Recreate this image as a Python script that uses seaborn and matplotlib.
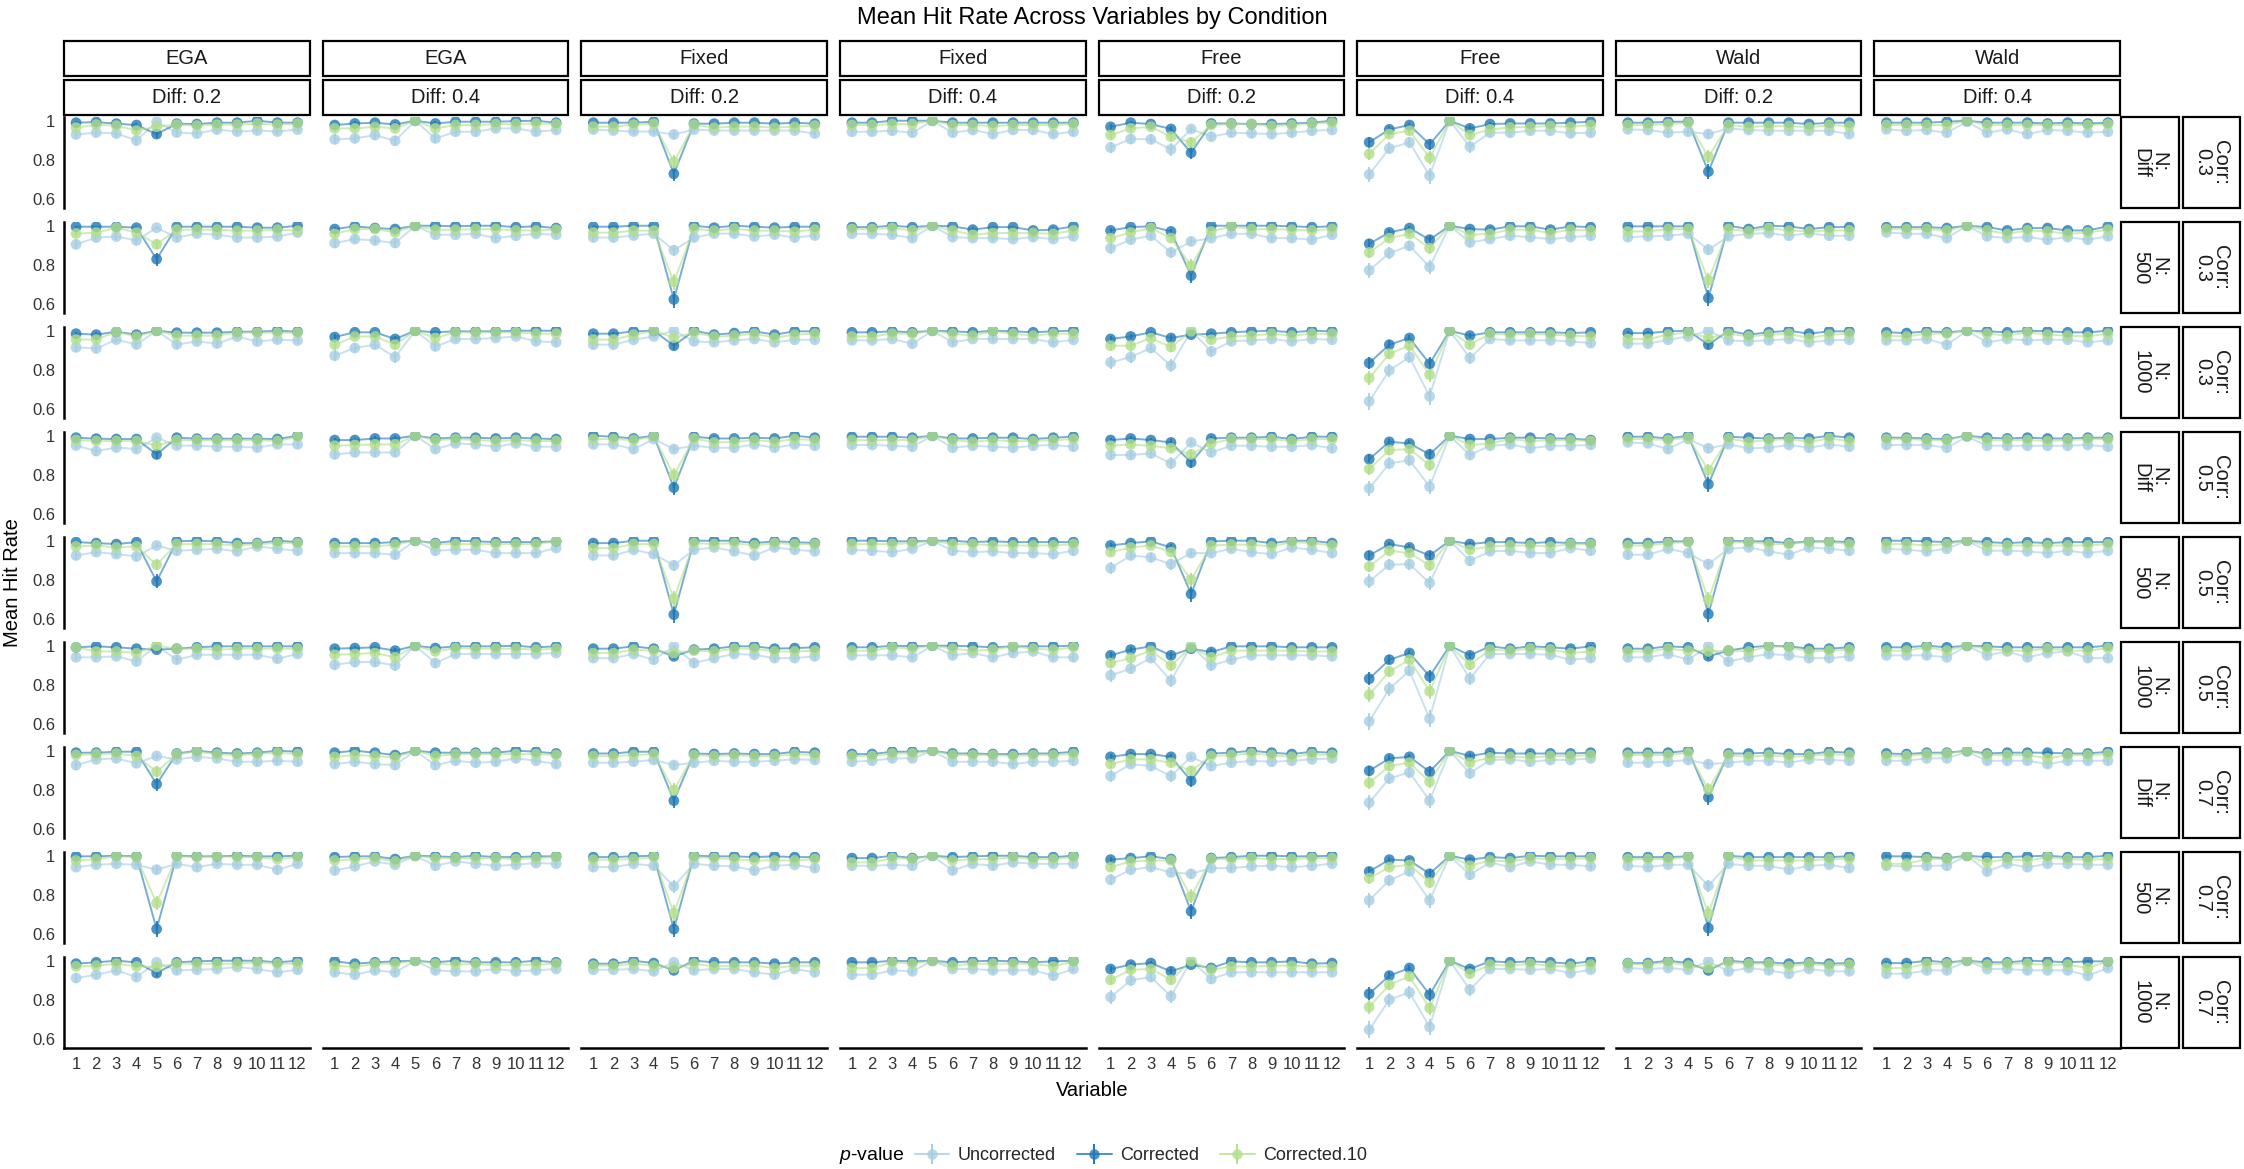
import numpy as np
import pandas as pd
import matplotlib
matplotlib.use("Agg")
import matplotlib.pyplot as plt
import seaborn as sns
from matplotlib.lines import Line2D
from matplotlib.patches import Rectangle
from matplotlib.legend_handler import HandlerTuple

# ---------------- data ----------------
variables = list(range(1, 13))
methods = ["EGA", "EGA", "Fixed", "Fixed", "Free", "Free", "Wald", "Wald"]
diff_labels = ["Diff: 0.2", "Diff: 0.4"] * 4
row_corr = ["Corr:\n0.3"] * 3 + ["Corr:\n0.5"] * 3 + ["Corr:\n0.7"] * 3
row_n = ["N:\nDiff", "N:\n500", "N:\n1000"] * 3
series = ["Uncorrected", "Corrected", "Corrected.10"]
palette = {"Uncorrected": "#A6CEE3", "Corrected": "#1F78B4", "Corrected.10": "#B2DF8A"}
n_replications = 500
y_ticks = [0.6, 0.8, 1.0]
y_tick_labels = ["0.6", "0.8", "1"]

ega_d02_unc = [
    [0.930, 0.940, 0.935, 0.900, 0.995, 0.940, 0.935, 0.955, 0.945, 0.950, 0.945, 0.955],
    [0.905, 0.940, 0.945, 0.925, 0.990, 0.940, 0.960, 0.955, 0.940, 0.940, 0.945, 0.965],
    [0.915, 0.910, 0.955, 0.930, 1.000, 0.930, 0.945, 0.935, 0.970, 0.945, 0.955, 0.950],
    [0.950, 0.922, 0.940, 0.932, 0.990, 0.950, 0.950, 0.944, 0.944, 0.940, 0.956, 0.956],
    [0.925, 0.942, 0.932, 0.920, 0.976, 0.949, 0.954, 0.959, 0.946, 0.971, 0.959, 0.949],
    [0.941, 0.941, 0.946, 0.920, 1.000, 0.929, 0.954, 0.954, 0.954, 0.954, 0.934, 0.958],
    [0.927, 0.956, 0.961, 0.936, 0.973, 0.956, 0.969, 0.961, 0.944, 0.944, 0.949, 0.944],
    [0.942, 0.954, 0.959, 0.954, 0.929, 0.959, 0.942, 0.959, 0.954, 0.954, 0.929, 0.959],
    [0.912, 0.929, 0.951, 0.917, 0.992, 0.951, 0.954, 0.958, 0.968, 0.958, 0.941, 0.954]]
ega_d02_cor = [
    [0.990, 0.993, 0.985, 0.978, 0.932, 0.985, 0.983, 0.990, 0.990, 1.000, 0.990, 0.990],
    [0.995, 0.995, 0.995, 0.990, 0.830, 0.995, 0.995, 0.995, 0.995, 0.990, 0.990, 1.000],
    [0.985, 0.980, 0.995, 0.980, 1.000, 0.990, 0.990, 0.990, 0.995, 0.995, 1.000, 0.995],
    [0.990, 0.985, 0.983, 0.983, 0.905, 0.990, 0.985, 0.985, 0.985, 0.985, 0.983, 1.000],
    [0.993, 0.988, 0.983, 0.993, 0.793, 0.997, 1.000, 0.997, 0.988, 0.988, 1.000, 0.993],
    [0.992, 0.997, 0.992, 0.985, 0.980, 0.985, 0.992, 0.997, 0.997, 0.997, 0.997, 0.997],
    [0.990, 0.990, 0.995, 0.995, 0.830, 0.986, 1.000, 0.990, 0.986, 0.990, 1.000, 0.995],
    [0.997, 0.997, 1.000, 0.997, 0.627, 1.000, 0.997, 0.997, 1.000, 0.997, 0.997, 1.000],
    [0.985, 0.992, 1.000, 0.992, 0.937, 0.992, 0.997, 1.000, 1.000, 1.000, 0.992, 1.000]]
ega_d02_c10 = [
    [0.965, 0.980, 0.975, 0.950, 0.970, 0.980, 0.975, 0.980, 0.980, 0.985, 0.980, 0.985],
    [0.960, 0.965, 0.990, 0.965, 0.905, 0.980, 0.980, 0.980, 0.975, 0.975, 0.980, 0.975],
    [0.955, 0.955, 0.995, 0.970, 1.000, 0.975, 0.975, 0.975, 0.990, 0.990, 0.990, 0.990],
    [0.978, 0.973, 0.973, 0.973, 0.950, 0.978, 0.978, 0.978, 0.978, 0.978, 0.973, 0.995],
    [0.971, 0.976, 0.966, 0.971, 0.878, 0.983, 0.983, 0.983, 0.976, 0.983, 0.988, 0.988],
    [0.992, 0.971, 0.971, 0.963, 1.000, 0.985, 0.985, 0.980, 0.985, 0.985, 0.985, 0.985],
    [0.978, 0.983, 0.986, 0.973, 0.893, 0.983, 0.995, 0.983, 0.978, 0.983, 0.990, 0.983],
    [0.976, 0.983, 0.997, 0.993, 0.759, 0.997, 0.993, 0.997, 0.993, 0.993, 0.983, 0.993],
    [0.971, 0.975, 0.985, 0.971, 0.968, 0.985, 0.985, 0.985, 0.985, 0.992, 0.985, 0.985]]

ega_d04_unc = [
    [0.905, 0.910, 0.927, 0.898, 1.000, 0.910, 0.944, 0.944, 0.961, 0.961, 0.944, 0.953],
    [0.912, 0.932, 0.925, 0.912, 1.000, 0.954, 0.954, 0.959, 0.937, 0.949, 0.959, 0.954],
    [0.873, 0.912, 0.929, 0.866, 1.000, 0.920, 0.958, 0.958, 0.963, 0.971, 0.946, 0.941],
    [0.905, 0.915, 0.915, 0.915, 1.000, 0.932, 0.961, 0.956, 0.944, 0.961, 0.944, 0.944],
    [0.937, 0.937, 0.937, 0.929, 1.000, 0.949, 0.954, 0.954, 0.937, 0.937, 0.937, 0.963],
    [0.903, 0.917, 0.917, 0.900, 1.000, 0.912, 0.958, 0.958, 0.958, 0.958, 0.958, 0.963],
    [0.932, 0.944, 0.932, 0.927, 1.000, 0.927, 0.949, 0.939, 0.944, 0.961, 0.949, 0.932],
    [0.925, 0.946, 0.971, 0.954, 1.000, 0.949, 0.971, 0.959, 0.949, 0.954, 0.963, 0.959],
    [0.941, 0.929, 0.951, 0.941, 1.000, 0.951, 0.946, 0.946, 0.958, 0.946, 0.951, 0.958]]
ega_d04_cor = [
    [0.978, 0.986, 0.990, 0.981, 1.000, 0.986, 0.995, 0.995, 0.995, 0.998, 1.000, 0.990],
    [0.983, 0.997, 0.988, 0.983, 1.000, 1.000, 0.997, 1.000, 1.000, 0.993, 0.997, 0.988],
    [0.968, 0.992, 0.992, 0.958, 1.000, 0.992, 0.997, 0.997, 0.997, 1.000, 1.000, 1.000],
    [0.978, 0.978, 0.986, 0.986, 1.000, 0.986, 0.990, 0.990, 0.986, 0.990, 0.986, 0.983],
    [0.988, 0.988, 0.988, 0.993, 1.000, 0.988, 1.000, 0.997, 0.993, 0.993, 0.993, 0.997],
    [0.985, 0.988, 0.992, 0.975, 1.000, 0.988, 0.997, 0.997, 0.997, 1.000, 0.992, 0.997],
    [0.990, 1.000, 0.990, 0.978, 1.000, 0.990, 0.990, 0.990, 0.990, 1.000, 0.995, 0.986],
    [0.993, 0.997, 0.997, 0.983, 1.000, 0.997, 0.993, 1.000, 0.993, 0.993, 0.997, 0.997],
    [0.997, 0.985, 0.992, 0.997, 1.000, 0.992, 1.000, 0.992, 0.992, 0.992, 1.000, 0.992]]
ega_d04_c10 = [
    [0.961, 0.961, 0.969, 0.961, 1.000, 0.961, 0.978, 0.978, 0.983, 0.983, 0.986, 0.983],
    [0.959, 0.983, 0.983, 0.966, 1.000, 0.980, 0.980, 0.983, 0.983, 0.976, 0.976, 0.980],
    [0.929, 0.971, 0.971, 0.929, 1.000, 0.963, 0.992, 0.992, 0.992, 0.992, 0.985, 0.985],
    [0.949, 0.953, 0.956, 0.956, 1.000, 0.978, 0.983, 0.978, 0.973, 0.978, 0.973, 0.973],
    [0.971, 0.971, 0.971, 0.980, 1.000, 0.983, 0.983, 0.983, 0.983, 0.983, 0.983, 0.997],
    [0.954, 0.958, 0.963, 0.941, 1.000, 0.971, 0.988, 0.985, 0.985, 0.985, 0.980, 0.985],
    [0.969, 0.978, 0.973, 0.966, 1.000, 0.973, 0.983, 0.983, 0.983, 0.983, 0.983, 0.978],
    [0.976, 0.983, 0.988, 0.971, 1.000, 0.988, 0.988, 0.988, 0.988, 0.983, 0.988, 0.993],
    [0.975, 0.968, 0.985, 0.985, 1.000, 0.985, 0.980, 0.985, 0.975, 0.980, 0.980, 0.985]]

fixed_d02_unc = [
    [0.955, 0.950, 0.945, 0.945, 0.930, 0.955, 0.950, 0.950, 0.950, 0.950, 0.950, 0.935],
    [0.940, 0.940, 0.950, 0.960, 0.875, 0.940, 0.960, 0.960, 0.945, 0.955, 0.940, 0.950],
    [0.929, 0.929, 0.954, 0.971, 1.000, 0.946, 0.941, 0.951, 0.958, 0.941, 0.954, 0.954],
    [0.956, 0.956, 0.932, 0.983, 0.932, 0.949, 0.939, 0.939, 0.956, 0.939, 0.956, 0.949],
    [0.925, 0.925, 0.954, 0.932, 0.875, 0.954, 0.966, 0.946, 0.925, 0.966, 0.954, 0.946],
    [0.937, 0.937, 0.958, 0.929, 0.997, 0.912, 0.937, 0.958, 0.954, 0.937, 0.937, 0.946],
    [0.939, 0.939, 0.944, 0.953, 0.927, 0.939, 0.949, 0.944, 0.944, 0.949, 0.956, 0.953],
    [0.942, 0.942, 0.959, 0.949, 0.844, 0.959, 0.949, 0.946, 0.925, 0.949, 0.954, 0.937],
    [0.954, 0.954, 0.958, 0.946, 0.992, 0.951, 0.958, 0.958, 0.941, 0.929, 0.958, 0.941]]
fixed_d02_cor = [
    [0.990, 0.990, 0.990, 0.995, 0.730, 0.985, 0.985, 0.990, 0.990, 0.985, 0.990, 0.985],
    [0.995, 0.995, 1.000, 1.000, 0.625, 1.000, 0.990, 1.000, 0.995, 0.990, 0.995, 0.995],
    [0.985, 0.985, 0.997, 1.000, 0.924, 1.000, 0.980, 0.988, 0.997, 0.980, 0.997, 0.997],
    [1.000, 0.995, 0.986, 1.000, 0.736, 0.995, 0.986, 0.986, 0.990, 0.986, 1.000, 0.990],
    [0.988, 0.988, 1.000, 1.000, 0.624, 1.000, 1.000, 1.000, 0.988, 0.997, 0.993, 0.988],
    [0.985, 0.985, 0.997, 0.985, 0.946, 0.980, 0.985, 0.997, 0.997, 0.985, 0.988, 0.992],
    [0.986, 0.986, 0.995, 0.995, 0.746, 0.986, 0.983, 0.986, 0.983, 0.983, 0.995, 0.990],
    [0.993, 0.993, 0.997, 1.000, 0.627, 1.000, 0.997, 0.997, 0.993, 0.997, 0.993, 0.993],
    [0.985, 0.985, 1.000, 0.988, 0.951, 1.000, 0.992, 0.992, 0.992, 0.985, 0.992, 0.992]]
fixed_d02_c10 = [
    [0.970, 0.970, 0.980, 0.985, 0.790, 0.980, 0.965, 0.970, 0.970, 0.965, 0.970, 0.975],
    [0.965, 0.965, 0.975, 0.975, 0.715, 0.985, 0.975, 0.985, 0.975, 0.975, 0.970, 0.980],
    [0.955, 0.955, 0.980, 1.000, 0.965, 0.990, 0.970, 0.975, 0.985, 0.965, 0.980, 0.985],
    [0.983, 0.983, 0.978, 0.995, 0.800, 0.986, 0.966, 0.969, 0.978, 0.969, 0.983, 0.978],
    [0.963, 0.963, 0.983, 0.983, 0.705, 0.988, 0.983, 0.988, 0.976, 0.988, 0.983, 0.983],
    [0.963, 0.963, 0.980, 0.975, 0.963, 0.975, 0.971, 0.985, 0.985, 0.971, 0.971, 0.975],
    [0.973, 0.973, 0.978, 0.983, 0.800, 0.978, 0.973, 0.978, 0.973, 0.973, 0.983, 0.978],
    [0.980, 0.980, 0.983, 0.993, 0.708, 0.993, 0.988, 0.983, 0.976, 0.976, 0.976, 0.983],
    [0.975, 0.975, 0.985, 0.975, 0.963, 0.985, 0.971, 0.975, 0.975, 0.963, 0.975, 0.975]]

fixed_d04_unc = [
    [0.944, 0.944, 0.949, 0.939, 1.000, 0.939, 0.953, 0.932, 0.953, 0.953, 0.932, 0.944],
    [0.959, 0.959, 0.954, 0.937, 1.000, 0.942, 0.937, 0.937, 0.932, 0.942, 0.932, 0.946],
    [0.951, 0.951, 0.958, 0.934, 1.000, 0.941, 0.958, 0.958, 0.958, 0.958, 0.941, 0.954],
    [0.953, 0.953, 0.949, 0.944, 1.000, 0.939, 0.949, 0.944, 0.939, 0.949, 0.953, 0.944],
    [0.954, 0.949, 0.942, 0.959, 1.000, 0.949, 0.942, 0.946, 0.937, 0.937, 0.932, 0.949],
    [0.951, 0.951, 0.951, 0.941, 1.000, 0.951, 0.963, 0.941, 0.963, 0.971, 0.941, 0.941],
    [0.944, 0.949, 0.961, 0.961, 1.000, 0.944, 0.944, 0.944, 0.932, 0.944, 0.944, 0.949],
    [0.949, 0.949, 0.954, 0.949, 1.000, 0.925, 0.959, 0.949, 0.966, 0.959, 0.959, 0.959],
    [0.929, 0.929, 0.951, 0.946, 1.000, 0.958, 0.958, 0.951, 0.951, 0.951, 0.924, 0.958]]
fixed_d04_cor = [
    [0.990, 0.990, 1.000, 1.000, 1.000, 0.990, 0.990, 0.990, 0.990, 0.990, 0.990, 0.990],
    [0.993, 0.993, 1.000, 0.993, 1.000, 0.997, 0.980, 0.993, 0.993, 0.976, 0.980, 0.997],
    [0.992, 0.992, 0.997, 0.992, 1.000, 0.997, 0.992, 1.000, 0.997, 0.992, 0.997, 1.000],
    [0.995, 0.995, 0.995, 0.990, 1.000, 0.986, 0.986, 0.990, 0.990, 0.983, 0.990, 0.995],
    [1.000, 1.000, 0.997, 0.997, 1.000, 1.000, 0.993, 0.997, 0.993, 0.993, 0.993, 0.993],
    [0.992, 0.992, 1.000, 0.997, 1.000, 1.000, 0.997, 0.992, 0.997, 0.997, 0.997, 1.000],
    [0.983, 0.983, 0.995, 0.995, 1.000, 0.986, 0.986, 0.983, 0.983, 0.986, 0.986, 0.995],
    [0.988, 0.988, 1.000, 0.988, 1.000, 0.993, 0.997, 1.000, 1.000, 0.993, 0.993, 1.000],
    [0.992, 0.992, 1.000, 0.997, 1.000, 0.992, 0.997, 1.000, 0.997, 0.992, 0.997, 1.000]]
fixed_d04_c10 = [
    [0.978, 0.978, 0.983, 0.983, 1.000, 0.978, 0.978, 0.973, 0.978, 0.978, 0.978, 0.983],
    [0.983, 0.983, 0.988, 0.976, 1.000, 0.976, 0.954, 0.963, 0.963, 0.963, 0.959, 0.976],
    [0.971, 0.971, 0.985, 0.985, 1.000, 0.985, 0.975, 0.997, 0.985, 0.975, 0.985, 0.985],
    [0.978, 0.978, 0.978, 0.978, 1.000, 0.978, 0.969, 0.978, 0.973, 0.973, 0.978, 0.983],
    [0.983, 0.983, 0.983, 0.988, 1.000, 0.983, 0.983, 0.976, 0.976, 0.976, 0.976, 0.983],
    [0.975, 0.975, 0.992, 0.985, 1.000, 0.985, 0.975, 0.980, 0.997, 0.985, 0.980, 0.992],
    [0.973, 0.973, 0.986, 0.986, 1.000, 0.978, 0.978, 0.978, 0.973, 0.978, 0.978, 0.983],
    [0.966, 0.966, 0.988, 0.983, 1.000, 0.976, 0.983, 0.983, 0.993, 0.983, 0.983, 0.993],
    [0.963, 0.963, 0.992, 0.985, 1.000, 0.975, 0.985, 0.985, 0.985, 0.985, 0.971, 0.997]]

free_d02_unc = [
    [0.864, 0.907, 0.905, 0.854, 0.958, 0.919, 0.939, 0.936, 0.932, 0.939, 0.949, 0.953],
    [0.886, 0.929, 0.949, 0.864, 0.920, 0.937, 0.959, 0.959, 0.937, 0.937, 0.929, 0.954],
    [0.839, 0.866, 0.912, 0.822, 1.000, 0.895, 0.946, 0.951, 0.958, 0.946, 0.958, 0.954],
    [0.902, 0.902, 0.910, 0.859, 0.966, 0.915, 0.949, 0.949, 0.944, 0.944, 0.953, 0.936],
    [0.861, 0.925, 0.915, 0.881, 0.937, 0.937, 0.959, 0.942, 0.932, 0.966, 0.954, 0.937],
    [0.849, 0.883, 0.937, 0.822, 1.000, 0.900, 0.929, 0.951, 0.951, 0.951, 0.951, 0.946],
    [0.871, 0.932, 0.922, 0.871, 0.969, 0.922, 0.939, 0.949, 0.944, 0.949, 0.956, 0.961],
    [0.878, 0.929, 0.942, 0.915, 0.908, 0.937, 0.937, 0.946, 0.949, 0.942, 0.949, 0.959],
    [0.815, 0.900, 0.917, 0.819, 1.000, 0.907, 0.941, 0.941, 0.941, 0.941, 0.941, 0.941]]
free_d02_cor = [
    [0.969, 0.990, 0.983, 0.958, 0.837, 0.986, 0.986, 0.983, 0.983, 0.986, 0.990, 1.000],
    [0.976, 0.993, 0.997, 0.971, 0.746, 1.000, 1.000, 1.000, 1.000, 0.997, 0.993, 0.997],
    [0.958, 0.971, 0.992, 0.963, 0.980, 0.985, 0.992, 0.997, 1.000, 0.992, 1.000, 0.997],
    [0.978, 0.986, 0.978, 0.966, 0.864, 0.986, 0.990, 0.990, 0.995, 0.983, 0.995, 0.995],
    [0.976, 0.988, 0.997, 0.966, 0.729, 0.997, 1.000, 1.000, 0.988, 1.000, 1.000, 0.988],
    [0.951, 0.980, 0.997, 0.951, 0.985, 0.968, 0.997, 0.997, 0.997, 0.992, 0.992, 0.992],
    [0.969, 0.983, 0.983, 0.969, 0.847, 0.986, 0.990, 1.000, 0.990, 0.983, 0.995, 0.990],
    [0.980, 0.988, 0.997, 0.983, 0.717, 0.988, 0.993, 1.000, 1.000, 0.997, 0.997, 1.000],
    [0.958, 0.980, 0.988, 0.946, 0.980, 0.963, 0.997, 0.992, 0.992, 0.997, 0.985, 0.988]]
free_d02_c10 = [
    [0.927, 0.961, 0.969, 0.919, 0.890, 0.978, 0.983, 0.983, 0.973, 0.978, 0.986, 0.990],
    [0.937, 0.966, 0.988, 0.937, 0.797, 0.971, 0.997, 0.983, 0.983, 0.980, 0.976, 0.983],
    [0.924, 0.924, 0.963, 0.917, 0.997, 0.954, 0.971, 0.975, 0.985, 0.975, 0.985, 0.985],
    [0.949, 0.956, 0.949, 0.936, 0.905, 0.961, 0.983, 0.983, 0.983, 0.973, 0.983, 0.983],
    [0.942, 0.966, 0.976, 0.942, 0.802, 0.976, 0.980, 0.980, 0.971, 0.993, 0.988, 0.976],
    [0.912, 0.937, 0.975, 0.900, 0.992, 0.941, 0.975, 0.975, 0.975, 0.975, 0.971, 0.971],
    [0.932, 0.956, 0.956, 0.939, 0.898, 0.973, 0.978, 0.986, 0.978, 0.969, 0.983, 0.978],
    [0.942, 0.971, 0.976, 0.976, 0.793, 0.983, 0.983, 0.988, 0.983, 0.983, 0.988, 0.988],
    [0.903, 0.954, 0.958, 0.903, 0.997, 0.954, 0.971, 0.971, 0.975, 0.975, 0.971, 0.971]]

free_d04_unc = [
    [0.727, 0.859, 0.890, 0.720, 1.000, 0.868, 0.939, 0.939, 0.949, 0.949, 0.936, 0.939],
    [0.773, 0.861, 0.898, 0.790, 1.000, 0.915, 0.932, 0.949, 0.942, 0.932, 0.942, 0.949],
    [0.641, 0.798, 0.866, 0.666, 1.000, 0.861, 0.958, 0.951, 0.951, 0.951, 0.946, 0.937],
    [0.732, 0.859, 0.876, 0.741, 1.000, 0.902, 0.949, 0.956, 0.936, 0.949, 0.949, 0.953],
    [0.793, 0.878, 0.881, 0.785, 1.000, 0.898, 0.946, 0.949, 0.937, 0.937, 0.963, 0.949],
    [0.615, 0.781, 0.873, 0.629, 1.000, 0.832, 0.958, 0.958, 0.958, 0.954, 0.929, 0.937],
    [0.736, 0.859, 0.890, 0.746, 1.000, 0.885, 0.953, 0.956, 0.944, 0.953, 0.953, 0.961],
    [0.773, 0.875, 0.920, 0.773, 1.000, 0.903, 0.966, 0.942, 0.971, 0.954, 0.954, 0.946],
    [0.649, 0.802, 0.839, 0.663, 1.000, 0.853, 0.958, 0.958, 0.954, 0.958, 0.937, 0.954]]
free_d04_cor = [
    [0.890, 0.956, 0.978, 0.880, 1.000, 0.961, 0.983, 0.986, 0.986, 0.986, 0.990, 0.995],
    [0.908, 0.966, 0.988, 0.929, 1.000, 0.983, 0.980, 0.997, 0.997, 0.980, 0.997, 0.993],
    [0.836, 0.929, 0.963, 0.832, 1.000, 0.975, 0.992, 0.992, 0.992, 0.992, 0.988, 0.992],
    [0.881, 0.969, 0.961, 0.905, 1.000, 0.983, 0.983, 0.990, 0.990, 0.986, 0.986, 0.978],
    [0.925, 0.983, 0.966, 0.925, 1.000, 0.983, 0.993, 0.993, 0.988, 0.993, 0.988, 0.988],
    [0.832, 0.929, 0.963, 0.844, 1.000, 0.951, 0.997, 0.985, 0.997, 0.992, 0.985, 0.997],
    [0.898, 0.961, 0.969, 0.893, 1.000, 0.973, 0.990, 0.986, 0.986, 0.986, 0.986, 0.990],
    [0.920, 0.980, 0.976, 0.908, 1.000, 0.980, 0.993, 0.988, 1.000, 0.997, 0.997, 0.997],
    [0.832, 0.924, 0.963, 0.827, 1.000, 0.958, 0.997, 0.992, 0.997, 0.992, 0.985, 0.997]]
free_d04_c10 = [
    [0.831, 0.932, 0.949, 0.812, 1.000, 0.927, 0.956, 0.966, 0.969, 0.973, 0.969, 0.978],
    [0.864, 0.937, 0.959, 0.886, 1.000, 0.954, 0.959, 0.980, 0.980, 0.963, 0.980, 0.976],
    [0.759, 0.883, 0.924, 0.776, 1.000, 0.929, 0.985, 0.980, 0.985, 0.980, 0.975, 0.971],
    [0.831, 0.927, 0.932, 0.851, 1.000, 0.953, 0.961, 0.983, 0.973, 0.978, 0.978, 0.973],
    [0.869, 0.949, 0.937, 0.875, 1.000, 0.954, 0.971, 0.976, 0.976, 0.971, 0.983, 0.983],
    [0.751, 0.869, 0.929, 0.768, 1.000, 0.903, 0.980, 0.975, 0.985, 0.980, 0.963, 0.971],
    [0.837, 0.922, 0.939, 0.842, 1.000, 0.939, 0.966, 0.969, 0.966, 0.973, 0.973, 0.978],
    [0.886, 0.942, 0.954, 0.864, 1.000, 0.949, 0.976, 0.971, 0.988, 0.983, 0.983, 0.988],
    [0.764, 0.878, 0.920, 0.759, 1.000, 0.934, 0.980, 0.975, 0.985, 0.975, 0.971, 0.980]]

wald_d02_unc = [
    [0.956, 0.953, 0.939, 0.944, 0.932, 0.961, 0.953, 0.949, 0.949, 0.949, 0.949, 0.932],
    [0.942, 0.946, 0.949, 0.959, 0.878, 0.946, 0.959, 0.963, 0.949, 0.963, 0.949, 0.949],
    [0.934, 0.934, 0.954, 0.971, 1.000, 0.951, 0.946, 0.951, 0.958, 0.941, 0.951, 0.954],
    [0.966, 0.961, 0.932, 0.983, 0.936, 0.956, 0.936, 0.939, 0.953, 0.939, 0.956, 0.944],
    [0.929, 0.929, 0.959, 0.937, 0.881, 0.959, 0.966, 0.946, 0.929, 0.966, 0.959, 0.949],
    [0.941, 0.941, 0.958, 0.929, 0.997, 0.920, 0.941, 0.958, 0.951, 0.937, 0.937, 0.946],
    [0.939, 0.939, 0.944, 0.953, 0.932, 0.939, 0.949, 0.949, 0.939, 0.956, 0.953, 0.949],
    [0.949, 0.942, 0.954, 0.954, 0.847, 0.959, 0.949, 0.949, 0.929, 0.949, 0.954, 0.937],
    [0.963, 0.958, 0.963, 0.954, 0.997, 0.946, 0.963, 0.951, 0.934, 0.958, 0.946, 0.946]]
wald_d02_cor = [
    [0.990, 0.990, 0.995, 0.995, 0.741, 0.990, 0.990, 0.990, 0.990, 0.983, 0.990, 0.990],
    [0.997, 0.997, 0.997, 0.997, 0.632, 1.000, 0.983, 1.000, 0.997, 0.983, 0.993, 0.993],
    [0.988, 0.988, 0.997, 1.000, 0.929, 1.000, 0.980, 0.992, 1.000, 0.985, 0.997, 0.997],
    [0.995, 0.995, 0.986, 1.000, 0.753, 0.995, 0.990, 0.986, 0.990, 0.986, 1.000, 0.990],
    [0.988, 0.988, 0.997, 0.997, 0.627, 1.000, 0.997, 0.997, 0.988, 0.997, 0.997, 0.993],
    [0.985, 0.985, 0.997, 0.992, 0.946, 0.975, 0.992, 1.000, 0.997, 0.985, 0.985, 0.992],
    [0.990, 0.990, 0.990, 1.000, 0.763, 0.986, 0.986, 0.990, 0.983, 0.983, 0.995, 0.990],
    [0.993, 0.993, 0.993, 0.997, 0.632, 1.000, 0.993, 0.993, 0.993, 0.993, 0.993, 0.997],
    [0.988, 0.988, 1.000, 0.988, 0.951, 1.000, 0.992, 0.992, 0.985, 0.992, 0.985, 0.988]]
wald_d02_c10 = [
    [0.978, 0.978, 0.983, 0.990, 0.817, 0.978, 0.969, 0.973, 0.973, 0.966, 0.978, 0.973],
    [0.971, 0.971, 0.983, 0.983, 0.722, 0.983, 0.971, 0.988, 0.976, 0.971, 0.976, 0.976],
    [0.958, 0.958, 0.980, 0.992, 0.963, 0.985, 0.971, 0.980, 0.985, 0.963, 0.980, 0.985],
    [0.983, 0.983, 0.978, 0.990, 0.825, 0.986, 0.969, 0.978, 0.983, 0.969, 0.986, 0.973],
    [0.976, 0.976, 0.988, 0.993, 0.700, 0.993, 0.993, 0.983, 0.983, 0.993, 0.993, 0.983],
    [0.971, 0.971, 0.985, 0.975, 0.971, 0.975, 0.971, 0.997, 0.992, 0.971, 0.975, 0.980],
    [0.978, 0.978, 0.978, 0.990, 0.803, 0.978, 0.969, 0.978, 0.969, 0.973, 0.983, 0.978],
    [0.983, 0.983, 0.983, 0.993, 0.705, 0.997, 0.976, 0.976, 0.976, 0.976, 0.983, 0.983],
    [0.985, 0.980, 0.992, 0.975, 0.963, 0.992, 0.985, 0.985, 0.971, 0.985, 0.975, 0.980]]

wald_d04_unc = [
    [0.956, 0.949, 0.953, 0.939, 0.995, 0.939, 0.956, 0.932, 0.953, 0.949, 0.939, 0.944],
    [0.966, 0.959, 0.959, 0.937, 1.000, 0.946, 0.937, 0.942, 0.929, 0.942, 0.929, 0.946],
    [0.951, 0.951, 0.958, 0.929, 1.000, 0.941, 0.958, 0.951, 0.954, 0.954, 0.941, 0.951],
    [0.953, 0.953, 0.953, 0.939, 0.995, 0.949, 0.949, 0.949, 0.949, 0.949, 0.953, 0.944],
    [0.959, 0.954, 0.946, 0.959, 1.000, 0.949, 0.949, 0.946, 0.937, 0.949, 0.937, 0.949],
    [0.951, 0.951, 0.951, 0.941, 1.000, 0.951, 0.971, 0.941, 0.963, 0.971, 0.937, 0.937],
    [0.949, 0.949, 0.961, 0.961, 0.995, 0.949, 0.949, 0.949, 0.932, 0.949, 0.949, 0.949],
    [0.949, 0.946, 0.949, 0.949, 1.000, 0.920, 0.959, 0.942, 0.959, 0.959, 0.954, 0.954],
    [0.934, 0.934, 0.951, 0.951, 1.000, 0.958, 0.958, 0.951, 0.951, 0.951, 0.924, 0.963]]
wald_d04_cor = [
    [0.990, 0.990, 0.990, 0.995, 1.000, 0.990, 0.990, 0.990, 0.986, 0.990, 0.986, 0.990],
    [0.993, 0.993, 0.993, 0.988, 1.000, 0.993, 0.976, 0.988, 0.988, 0.976, 0.976, 0.997],
    [0.992, 0.988, 0.997, 0.992, 1.000, 0.997, 0.992, 1.000, 0.997, 0.992, 0.992, 1.000],
    [0.990, 0.990, 0.986, 0.983, 1.000, 0.990, 0.986, 0.990, 0.986, 0.986, 0.990, 0.990],
    [1.000, 1.000, 0.997, 0.993, 1.000, 0.993, 0.988, 0.993, 0.988, 0.993, 0.993, 0.993],
    [0.992, 0.992, 1.000, 0.992, 1.000, 0.997, 0.992, 0.992, 0.992, 0.992, 0.992, 1.000],
    [0.986, 0.983, 0.990, 0.990, 1.000, 0.986, 0.990, 0.990, 0.990, 0.986, 0.986, 0.995],
    [0.997, 0.997, 0.993, 0.988, 1.000, 0.993, 0.993, 0.997, 1.000, 0.993, 0.993, 1.000],
    [0.988, 0.988, 1.000, 0.992, 1.000, 0.992, 0.992, 1.000, 0.997, 0.992, 0.997, 0.997]]
wald_d04_c10 = [
    [0.978, 0.978, 0.978, 0.978, 1.000, 0.978, 0.978, 0.978, 0.978, 0.978, 0.978, 0.983],
    [0.983, 0.983, 0.983, 0.976, 1.000, 0.976, 0.959, 0.976, 0.971, 0.959, 0.966, 0.980],
    [0.975, 0.971, 0.985, 0.985, 1.000, 0.985, 0.975, 0.992, 0.980, 0.975, 0.971, 0.985],
    [0.983, 0.983, 0.978, 0.978, 1.000, 0.978, 0.978, 0.978, 0.973, 0.978, 0.983, 0.983],
    [0.983, 0.983, 0.976, 0.983, 1.000, 0.976, 0.976, 0.976, 0.976, 0.976, 0.976, 0.983],
    [0.975, 0.975, 0.992, 0.975, 1.000, 0.985, 0.975, 0.975, 0.985, 0.975, 0.975, 0.988],
    [0.973, 0.973, 0.983, 0.986, 1.000, 0.978, 0.978, 0.978, 0.961, 0.978, 0.978, 0.983],
    [0.959, 0.959, 0.983, 0.983, 1.000, 0.966, 0.983, 0.976, 0.993, 0.983, 0.980, 0.983],
    [0.963, 0.963, 0.985, 0.985, 1.000, 0.980, 0.985, 0.985, 0.980, 0.980, 0.963, 0.997]]

columns = [
    (ega_d02_unc, ega_d02_cor, ega_d02_c10),
    (ega_d04_unc, ega_d04_cor, ega_d04_c10),
    (fixed_d02_unc, fixed_d02_cor, fixed_d02_c10),
    (fixed_d04_unc, fixed_d04_cor, fixed_d04_c10),
    (free_d02_unc, free_d02_cor, free_d02_c10),
    (free_d04_unc, free_d04_cor, free_d04_c10),
    (wald_d02_unc, wald_d02_cor, wald_d02_c10),
    (wald_d04_unc, wald_d04_cor, wald_d04_c10),
]

records = []
for c, arrays in enumerate(columns):
    for r in range(9):
        for name, arr in zip(series, arrays):
            for v, val in zip(variables, arr[r]):
                records.append({"col": c, "row": r, "pvalue": name,
                                "Variable": v, "HitRate": val})
df = pd.DataFrame(records)
# binomial 95% interval of a hit rate over the replications
df["half"] = 1.96 * np.sqrt(df["HitRate"] * (1 - df["HitRate"]) / n_replications)
df["lo"] = df["HitRate"] - df["half"]
df["hi"] = df["HitRate"] + df["half"]

# ---------------- style ----------------
sns.set_style("white")
plt.rcParams["font.family"] = ["Liberation Sans", "DejaVu Sans"]
plt.rcParams["mathtext.fontset"] = "custom"
plt.rcParams["mathtext.it"] = "Liberation Sans:italic"
plt.rcParams["mathtext.rm"] = "Liberation Sans"

W_PX, H_PX = 2244, 1169
DPI = 100
fig = plt.figure(figsize=(W_PX / DPI, H_PX / DPI), dpi=DPI)
fig.patch.set_facecolor("white")

PANEL_L, PANEL_R = 64, 2120
GAP_X = 13
PW = (PANEL_R - PANEL_L - 7 * GAP_X) / 8
PANEL_T = 117
PH = 91
PITCH_Y = 105
TICK_COLOR = "#333333"
STRIP_LW = 1.6


def fx(px):
    return px / W_PX


def fy(py):
    return 1 - py / H_PX


def strip_box(x0, y0, w, h, text, rotation=0, size=14.5):
    rect = Rectangle((fx(x0), fy(y0 + h)), w / W_PX, h / H_PX,
                     transform=fig.transFigure, facecolor="white",
                     edgecolor="black", linewidth=STRIP_LW, zorder=3)
    fig.add_artist(rect)
    fig.text(fx(x0 + w / 2), fy(y0 + h / 2), text, ha="center", va="center",
             rotation=rotation, fontsize=size, color="#1a1a1a",
             linespacing=0.95, zorder=4)


groups = {k: g for k, g in df.groupby(["row", "col"])}

for r in range(9):
    for c in range(8):
        x0 = PANEL_L + c * (PW + GAP_X)
        y0 = PANEL_T + r * PITCH_Y
        ax = fig.add_axes([fx(x0), fy(y0 + PH), PW / W_PX, PH / H_PX])
        sub = groups[(r, c)]
        sns.lineplot(data=sub, x="Variable", y="HitRate", hue="pvalue",
                     hue_order=series, palette=palette, estimator=None,
                     linewidth=1.4, alpha=0.6, legend=False, ax=ax, zorder=2)
        for name in series:
            s = sub[sub["pvalue"] == name]
            ax.vlines(s["Variable"], s["lo"], s["hi"], colors=palette[name],
                      linewidth=1.4, alpha=0.9, zorder=3)
        sns.scatterplot(data=sub, x="Variable", y="HitRate", hue="pvalue",
                        hue_order=series, palette=palette, s=60, alpha=0.8,
                        linewidth=0, legend=False, ax=ax, zorder=4)
        ax.set_xlim(0.4, 12.6)
        ax.set_ylim(0.556, 1.019)
        ax.set_xlabel("")
        ax.set_ylabel("")
        for sp in ax.spines.values():
            sp.set_visible(False)
        ax.set_facecolor("none")
        ax.tick_params(colors=TICK_COLOR, labelcolor=TICK_COLOR,
                       length=4.5, width=1.2, labelsize=12, pad=2)
        if c == 0:
            ax.spines["left"].set_visible(True)
            ax.spines["left"].set_linewidth(1.8)
            ax.spines["left"].set_color("black")
            ax.set_yticks(y_ticks)
            ax.set_yticklabels(y_tick_labels)
        else:
            ax.set_yticks([])
        if r == 8:
            ax.spines["bottom"].set_visible(True)
            ax.spines["bottom"].set_linewidth(1.8)
            ax.spines["bottom"].set_color("black")
            ax.set_xticks(variables)
            ax.set_xticklabels([str(v) for v in variables])
        else:
            ax.set_xticks([])

        if r == 0:
            strip_box(x0, 41, PW, 35, methods[c])
            strip_box(x0, 80, PW, 35, diff_labels[c])
    y0 = PANEL_T + r * PITCH_Y
    strip_box(2121, y0, 58, PH, row_n[r], rotation=270)
    strip_box(2183, y0, 57, PH, row_corr[r], rotation=270)

# titles
fig.text(fx((PANEL_L + PANEL_R) / 2), fy(18),
         "Mean Hit Rate Across Variables by Condition",
         ha="center", va="center", fontsize=17, color="black")
fig.text(fx((PANEL_L + PANEL_R) / 2), fy(1091), "Variable",
         ha="center", va="center", fontsize=14.5, color="black")
fig.text(fx(13), fy((PANEL_T + PANEL_T + 8 * PITCH_Y + PH) / 2), "Mean Hit Rate",
         ha="center", va="center", rotation=90, fontsize=14.5, color="black")

# legend: line + point + vertical interval overlaid in each key
handles = []
for name in series:
    ln = Line2D([], [], color=palette[name], linewidth=1.4, alpha=0.8,
                marker="o", markersize=7.5, markeredgewidth=0)
    bar = Line2D([], [], color=palette[name], linestyle="none",
                 marker="|", markersize=14, markeredgewidth=1.4)
    handles.append((ln, bar))
fig.text(fx(905), fy(1156), "$p$-value", ha="right", va="center",
         fontsize=14, color="black")
fig.legend(handles, series, handler_map={tuple: HandlerTuple(ndivide=1, pad=0)},
           loc="center left", bbox_to_anchor=(fx(915), fy(1156)), ncol=3,
           frameon=False, fontsize=13, handlelength=1.9, handletextpad=0.45,
           columnspacing=1.2, borderaxespad=0, borderpad=0)

fig.savefig("out.png", dpi=DPI, facecolor="white")
